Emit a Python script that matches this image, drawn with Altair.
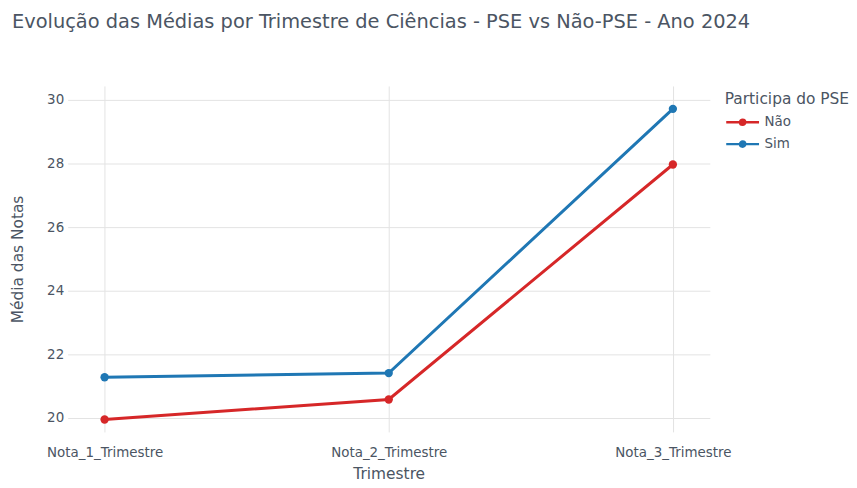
import altair as alt
import pandas as pd

trimestres = ["Nota_1_Trimestre", "Nota_2_Trimestre", "Nota_3_Trimestre"]
grupos = ["Não", "Sim"]
medias_nao = [19.95, 20.58, 27.97]
medias_sim = [21.28, 21.41, 29.72]
cores = ["#d62728", "#1f77b4"]

rows = []
for t, v in zip(trimestres, medias_nao):
    rows.append({"Trimestre": t, "Participa do PSE": "Não", "Média": v})
for t, v in zip(trimestres, medias_sim):
    rows.append({"Trimestre": t, "Participa do PSE": "Sim", "Média": v})
df = pd.DataFrame(rows)

FONT = "DejaVu Sans"
TXT = "#4b5563"

legend_symbol = ("M-1,0L3.4,0 M1.05,0A0.15,0.15 0 1,1 1.35,0A0.15,0.15 0 1,1 1.05,0 "
                 "M0.85,0A0.35,0.35 0 1,1 1.55,0A0.35,0.35 0 1,1 0.85,0")

chart = alt.Chart(df).mark_line(
    strokeWidth=3,
    point=alt.OverlayMarkDef(filled=True, size=70, opacity=1),
).encode(
    x=alt.X("Trimestre:N", sort=trimestres,
            scale=alt.Scale(type="point", padding=0.13),
            axis=alt.Axis(title="Trimestre", labelAngle=0, grid=True, ticks=False,
                          domain=False, labelPadding=14, titlePadding=7)),
    y=alt.Y("Média:Q", scale=alt.Scale(domain=[19.56, 30.44], nice=False, zero=False),
            axis=alt.Axis(title="Média das Notas", values=[20, 22, 24, 26, 28, 30],
                          ticks=False, domain=False, labelPadding=4, titlePadding=21)),
    color=alt.Color("Participa do PSE:N", sort=grupos,
                    scale=alt.Scale(domain=grupos, range=cores),
                    legend=alt.Legend(orient="none", legendX=661, legendY=6,
                                      symbolType=legend_symbol, symbolSize=225,
                                      symbolStrokeWidth=2.5, labelOffset=22,
                                      rowPadding=5, titlePadding=6)),
).properties(
    width=646,
    height=348,
    title=alt.Title("Evolução das Médias por Trimestre de Ciências - PSE vs Não-PSE - Ano 2024",
                    anchor="start", frame="group", dx=-56, offset=54, fontSize=19.5, font=FONT,
                    fontWeight="normal", color=TXT),
    autosize=alt.AutoSizeParams(type="none"),
    padding={"left": 60, "top": 77, "right": 140, "bottom": 55},
).configure_view(
    stroke=None
).configure_axis(
    gridColor="#e3e3e3",
    labelFont=FONT, titleFont=FONT,
    labelFontSize=13.5, titleFontSize=15.5,
    labelColor=TXT, titleColor=TXT,
    titleFontWeight="normal",
).configure_legend(
    labelFont=FONT, titleFont=FONT,
    labelFontSize=13.5, titleFontSize=15.5,
    labelColor=TXT, titleColor=TXT,
    titleFontWeight="normal",
)

chart.save("out.html", embed_options={"renderer": "svg", "actions": False})
